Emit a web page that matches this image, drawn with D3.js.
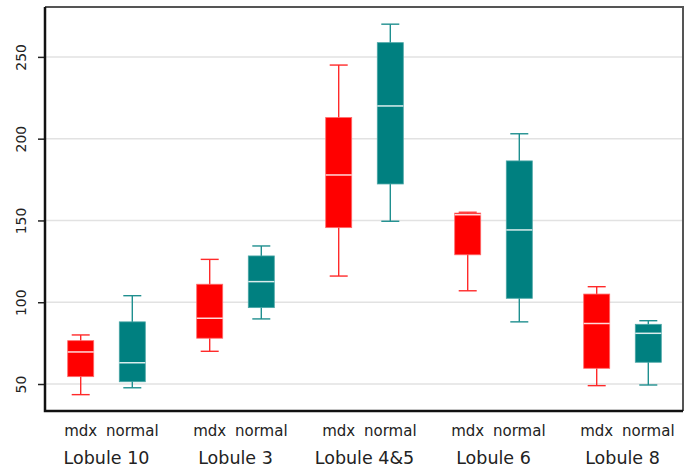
<!DOCTYPE html>
<html>
<head>
<meta charset="utf-8">
<script src="https://cdn.jsdelivr.net/npm/d3@7"></script>
<style>
  body { margin: 0; background: #fff; }
  text { font-family: "DejaVu Sans", sans-serif; fill: #222; }
</style>
</head>
<body>
<div class="chart"></div>
<script>
"use strict";

// Groups and the two genotypes drawn inside each group
const lobules = ["Lobule 10", "Lobule 3", "Lobule 4&5", "Lobule 6", "Lobule 8"];
const genotypes = ["mdx", "normal"];
const yTicks = [50, 100, 150, 200, 250];

// Box statistics, one value per lobule
const mdxMin    = [43.5, 70, 116, 107, 49];
const mdxQ1     = [54.5, 78, 145.6, 129, 59.6];
const mdxMedian = [69.6, 90.2, 177.8, 153.5, 87];
const mdxQ3     = [76.5, 111, 212.9, 154.5, 105];
const mdxMax    = [80, 126.2, 245, 155, 109.5];

const normalMin    = [47.7, 89.8, 149.5, 88, 49.4];
const normalQ1     = [51.4, 96.7, 172.3, 102.4, 63.3];
const normalMedian = [63, 112.6, 220, 144.2, 81];
const normalQ3     = [88, 128.3, 258.7, 186.4, 86.5];
const normalMax    = [104, 134.4, 270, 203, 88.7];

const colors = { mdx: "#ff0000", normal: "#008080" };
const whiskerColors = { mdx: "#ff2a2a", normal: "#1f8f8f" };

// Build one record per box
const boxes = [];
lobules.forEach((lobule, i) => {
  boxes.push({ lobule, genotype: "mdx", min: mdxMin[i], q1: mdxQ1[i], median: mdxMedian[i], q3: mdxQ3[i], max: mdxMax[i] });
  boxes.push({ lobule, genotype: "normal", min: normalMin[i], q1: normalQ1[i], median: normalMedian[i], q3: normalQ3[i], max: normalMax[i] });
});

drawChart();

function drawChart() {
  const width = 691;
  const height = 470;
  const plotLeft = 45, plotRight = 683, plotTop = 7, plotBottom = 411;

  const svg = d3.select(".chart")
    .append("svg")
      .attr("width", width)
      .attr("height", height);

  const xScale = d3.scaleBand()
    .domain(lobules)
    .range([42, 687]);

  const xSub = d3.scalePoint()
    .domain(genotypes)
    .range([0, xScale.bandwidth()])
    .padding(0.75);

  const yScale = d3.scaleLinear()
    .domain([33.5, 280.5])
    .range([plotBottom, plotTop]);

  // Horizontal grid lines
  svg.append("g")
    .selectAll("line")
    .data(yTicks)
    .join("line")
      .attr("x1", plotLeft)
      .attr("x2", plotRight)
      .attr("y1", d => yScale(d))
      .attr("y2", d => yScale(d))
      .attr("stroke", "#e2e2e2")
      .attr("stroke-width", 1.5);

  // Frame (top and right are lighter)
  svg.append("path")
    .attr("d", `M${plotLeft},${plotTop}H${plotRight}V${plotBottom}`)
    .attr("fill", "none")
    .attr("stroke", "#555")
    .attr("stroke-width", 2);

  // Y axis
  const yAxis = d3.axisLeft(yScale)
    .tickValues(yTicks)
    .tickSize(7)
    .tickSizeOuter(0);

  const yAxisG = svg.append("g")
    .attr("class", "axis-y")
    .attr("transform", `translate(${plotLeft}, 0)`)
    .call(yAxis);

  yAxisG.select(".domain").remove();
  yAxisG.selectAll(".tick line")
    .attr("stroke", "#222")
    .attr("stroke-width", 1.5);
  yAxisG.selectAll(".tick text")
    .attr("x", null)
    .attr("dy", null)
    .attr("transform", "translate(-19.5, 0) rotate(-90)")
    .attr("text-anchor", "middle")
    .attr("font-size", 14)
    .attr("font-family", "DejaVu Sans, sans-serif")
    .attr("fill", "#333");

  // Boxes
  const boxWidth = 26;
  const capWidth = 18;

  const boxG = svg.append("g")
    .selectAll("g")
    .data(boxes)
    .join("g")
      .attr("transform", d => `translate(${xScale(d.lobule) + xSub(d.genotype)}, 0)`);

  boxG.append("line")
    .attr("y1", d => yScale(d.min))
    .attr("y2", d => yScale(d.max))
    .attr("stroke", d => whiskerColors[d.genotype])
    .attr("stroke-width", 1.4);

  boxG.selectAll(".cap")
    .data(d => [d.min, d.max].map(v => ({ v, g: d.genotype })))
    .join("line")
      .attr("class", "cap")
      .attr("x1", -capWidth / 2)
      .attr("x2", capWidth / 2)
      .attr("y1", d => yScale(d.v))
      .attr("y2", d => yScale(d.v))
      .attr("stroke", d => whiskerColors[d.g])
      .attr("stroke-width", 1.4);

  boxG.append("rect")
    .attr("x", -boxWidth / 2)
    .attr("width", boxWidth)
    .attr("y", d => yScale(d.q3))
    .attr("height", d => yScale(d.q1) - yScale(d.q3))
    .attr("fill", d => colors[d.genotype])
    .attr("stroke", d => d.genotype === "mdx" ? "#ff6a6a" : "#4aa6a6")
    .attr("stroke-width", 0.8);

  boxG.append("line")
    .attr("x1", -boxWidth / 2)
    .attr("x2", boxWidth / 2)
    .attr("y1", d => yScale(d.median))
    .attr("y2", d => yScale(d.median))
    .attr("stroke", "rgba(255, 255, 255, 0.85)")
    .attr("stroke-width", 1.5);

  // Left and bottom axis lines (drawn over the frame)
  svg.append("path")
    .attr("d", `M${plotLeft},${plotTop}V${plotBottom}H${plotRight}`)
    .attr("fill", "none")
    .attr("stroke", "#111")
    .attr("stroke-width", 2.5);

  // Genotype labels under each box
  svg.append("g")
    .selectAll("text")
    .data(boxes)
    .join("text")
      .attr("x", d => xScale(d.lobule) + xSub(d.genotype))
      .attr("y", 436)
      .attr("text-anchor", "middle")
      .attr("font-size", 15)
      .text(d => d.genotype);

  // Lobule labels
  const xAxis = d3.axisBottom(xScale)
    .tickSize(0)
    .tickSizeOuter(0);

  const xAxisG = svg.append("g")
    .attr("class", "axis-x")
    .attr("transform", "translate(0, 450)")
    .call(xAxis);

  xAxisG.select(".domain").remove();
  xAxisG.selectAll(".tick text")
    .attr("y", 14)
    .attr("dy", null)
    .attr("font-size", 17.5)
    .attr("font-family", "DejaVu Sans, sans-serif")
    .attr("fill", "#222");
}
</script>
</body>
</html>
